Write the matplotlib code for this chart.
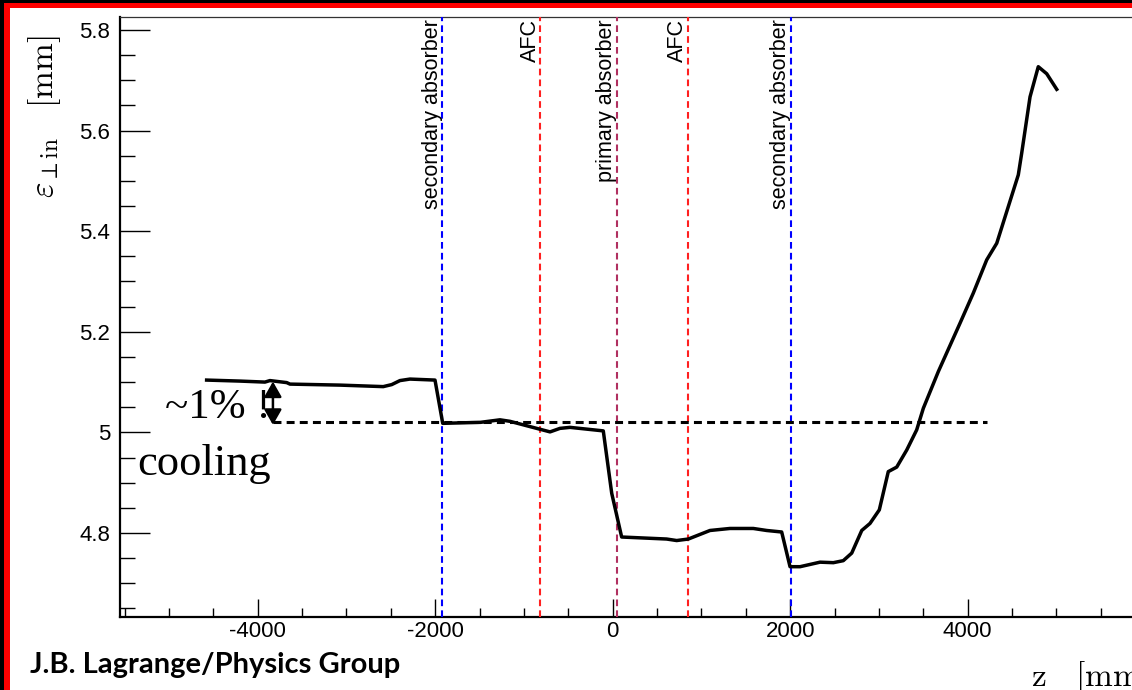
import matplotlib
matplotlib.use("Agg")
import matplotlib.pyplot as plt
from matplotlib.patches import Rectangle
from matplotlib.ticker import MultipleLocator, FuncFormatter

# ---- data -----------------------------------------------------------------
z_mm = [-4575, -4199, -3918, -3862, -3673, -3636, -3073, -2585, -2490, -2397,
        -2284, -2002, -1915, -1489, -1270, -1157, -1007, -706, -594, -481,
        -106, -11, 101, 608, 721, 852, 1096, 1321, 1584, 1735,
        1904, 1998, 2111, 2336, 2486, 2598, 2693, 2806, 2899, 3004,
        3105, 3200, 3313, 3425, 3500, 3669, 3913, 4063, 4214, 4327,
        4570, 4608, 4702, 4795, 4890, 5003]
emittance = [5.104, 5.102, 5.100, 5.103, 5.099, 5.096, 5.094, 5.091, 5.095, 5.103,
             5.106, 5.104, 5.018, 5.020, 5.025, 5.022, 5.015, 5.001, 5.008, 5.010,
             5.003, 4.879, 4.792, 4.788, 4.785, 4.788, 4.805, 4.809, 4.809, 4.805,
             4.802, 4.733, 4.733, 4.742, 4.741, 4.745, 4.760, 4.805, 4.819, 4.846,
             4.922, 4.931, 4.965, 5.005, 5.048, 5.121, 5.217, 5.277, 5.343, 5.376,
             5.512, 5.555, 5.667, 5.727, 5.713, 5.682]

marker_z = [-1920, -820, 45, 845, 2005]
marker_labels = ["secondary absorber", "AFC", "primary absorber", "AFC",
                 "secondary absorber"]
marker_colors = ["#0000ff", "#ff2020", "#b03060", "#ff2020", "#0000ff"]

reference_level = 5.021
reference_span = [-3828, 4217]
arrow_z = -3828
arrow_span = [5.015, 5.101]

x_major = [-4000, -2000, 0, 2000, 4000]

# ---- figure ---------------------------------------------------------------
W, H, DPI = 1132, 690, 100
plt.rcParams["axes.unicode_minus"] = False
plt.rcParams["mathtext.fontset"] = "cm"
plt.rcParams["font.family"] = ["Liberation Sans", "DejaVu Sans"]

fig = plt.figure(figsize=(W / DPI, H / DPI), dpi=DPI)
fig.patch.set_facecolor("white")


def fx(px):
    return px / W


def fy(py):
    return 1 - py / H


ax_left, ax_right, ax_top, ax_bottom = 120, 1140, 17, 617
ax = fig.add_axes([fx(ax_left), fy(ax_bottom),
                   (ax_right - ax_left) / W, (ax_bottom - ax_top) / H])
ax.set_xlim(-5551, 5941)
ax.set_ylim(4.633, 5.8258)

# emittance curve
ax.plot(z_mm, emittance, color="black", lw=2.5, solid_joinstyle="round",
        zorder=5)

# element positions
for zp, lab, col in zip(marker_z, marker_labels, marker_colors):
    ax.axvline(zp, color=col, lw=1.5, ls=(0, (3.2, 2.0)), zorder=3)
    ax.annotate(lab, xy=(zp, 1), xycoords=("data", "axes fraction"),
                xytext=(-3.2, -1.5), textcoords="offset points",
                rotation=90, rotation_mode="anchor", ha="right",
                va="baseline", fontsize=15.5, color="black")

# reference level and 1% arrow
ax.plot(reference_span, [reference_level, reference_level], color="black",
        lw=2.2, ls=(0, (2.6, 1.7)), zorder=4)
ax.annotate("", xy=(arrow_z, arrow_span[0]), xytext=(arrow_z, arrow_span[1]),
            arrowprops=dict(arrowstyle="<|-|>,head_length=0.42,head_width=0.24",
                            color="black", lw=1.8,
                            mutation_scale=22, shrinkA=0, shrinkB=0),
            zorder=6)
ax.text(-5045, 5.0286, "~1% !", family=["Liberation Serif"], fontsize=31,
        ha="left", va="baseline", zorder=7)
ax.text(-5361, 4.9153, "cooling", family=["Liberation Serif"], fontsize=32,
        ha="left", va="baseline", zorder=7)

# axes styling
ax.xaxis.set_major_locator(plt.FixedLocator(x_major))
ax.xaxis.set_minor_locator(MultipleLocator(500))
ax.yaxis.set_major_locator(MultipleLocator(0.2))
ax.yaxis.set_minor_locator(MultipleLocator(0.05))
ax.xaxis.set_major_formatter(FuncFormatter(lambda v, p: f"{v:.0f}"))
ax.yaxis.set_major_formatter(FuncFormatter(lambda v, p: f"{v:g}"))
ax.tick_params(axis="both", which="both", direction="in", top=False,
               right=False, width=1.0, labelsize=16)
ax.tick_params(axis="y", which="major", length=21.6, pad=7)
ax.tick_params(axis="y", which="minor", length=10.8)
ax.tick_params(axis="x", which="major", length=13, pad=3)
ax.tick_params(axis="x", which="minor", length=6.5)
for side in ("left", "bottom"):
    ax.spines[side].set_linewidth(1.6)
ax.spines["top"].set_linewidth(0.9)
ax.spines["top"].set_color("#333333")
ax.spines["right"].set_visible(False)

# axis titles
fig.text(fx(45), fy(35), r"$\varepsilon_{\perp\mathrm{in}}\quad[\mathrm{mm}]$",
         rotation=90, ha="center", va="top", fontsize=24)
fig.text(fx(1031), fy(686), r"$\mathrm{z}\quad[\mathrm{mm}]$",
         ha="left", va="baseline", fontsize=24)

# credit line
fig.text(fx(30), fy(673), "J.B. Lagrange/Physics Group",
         family=["Lato", "DejaVu Sans"], fontweight="bold", fontsize=21,
         ha="left", va="baseline")

# slide frame
fig.add_artist(Rectangle((0, 0), fx(4), 1, transform=fig.transFigure,
                         color="black", lw=0, zorder=20))
fig.add_artist(Rectangle((fx(4), 0), fx(6), 1, transform=fig.transFigure,
                         color="#ff0000", lw=0, zorder=20))
fig.add_artist(Rectangle((0, fy(3)), 1, 3 / H, transform=fig.transFigure,
                         color="black", lw=0, zorder=21))
fig.add_artist(Rectangle((fx(4), fy(8)), 1, 5 / H, transform=fig.transFigure,
                         color="#ff0000", lw=0, zorder=21))

fig.savefig("out.png", dpi=DPI)
